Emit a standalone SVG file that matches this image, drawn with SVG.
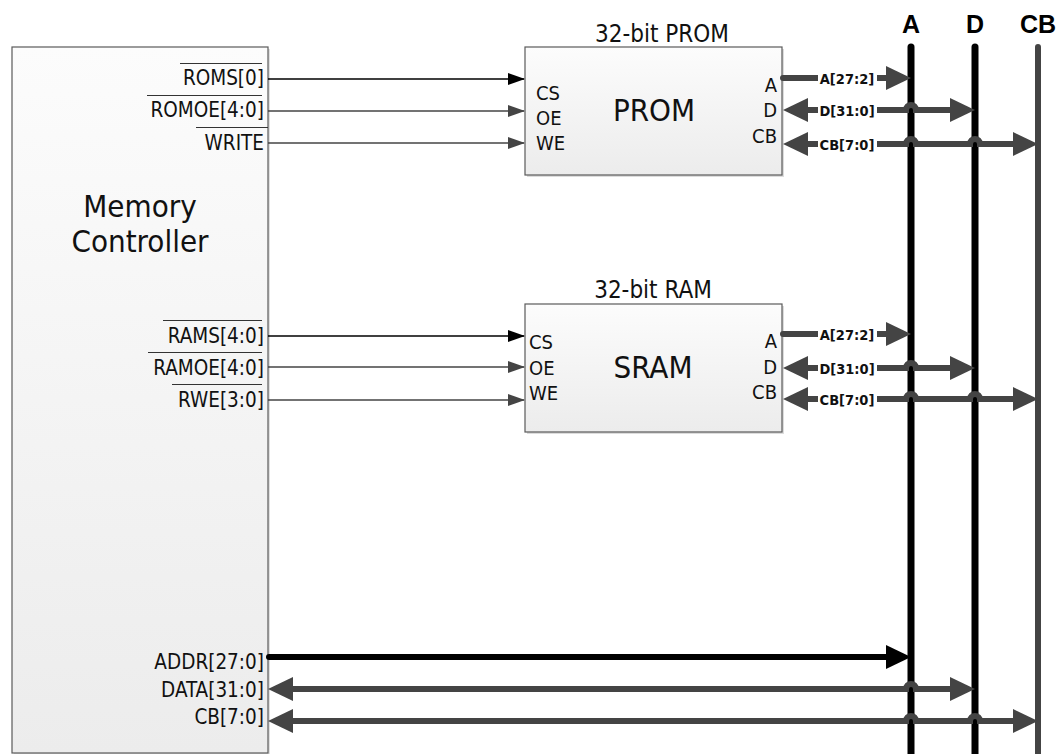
<svg xmlns="http://www.w3.org/2000/svg" width="1059" height="754" viewBox="0 0 1059 754">
<style>
text{font-family:"DejaVu Sans Condensed","DejaVu Sans",sans-serif;fill:#111}
.sig{font-size:20.5px;text-anchor:end}
.pin{font-size:20px}
.pinr{font-size:20px;text-anchor:end}
.title{font-size:24px;text-anchor:middle}
.big{font-size:31px;text-anchor:middle}
.mc{font-size:31px;text-anchor:middle}
.bus{font-family:"Liberation Sans",Arial,sans-serif;font-size:25px;font-weight:bold;text-anchor:middle;fill:#000}
.bl{font-size:14.5px;font-weight:bold;text-anchor:middle;fill:#111}
.box{stroke:#5a5a5a;stroke-width:1.2;fill:url(#g)}
.ov{stroke:#333;stroke-width:1.2}
.thin{stroke:#444;stroke-width:1.6;fill:none}
.thinb{stroke:#000;stroke-width:1.6;fill:none}
.thk{stroke:#444;stroke-width:6;fill:none}
.thkb{stroke:#000;stroke-width:6;fill:none}
</style>
<defs>
<linearGradient id="g" x1="0" y1="0" x2="0" y2="1">
<stop offset="0" stop-color="#fcfcfc"/>
<stop offset="1" stop-color="#ececec"/>
</linearGradient>
<marker id="ab" markerUnits="userSpaceOnUse" markerWidth="17" markerHeight="12" refX="16" refY="6" orient="auto"><path d="M0,0 L17,6 L0,12 z" fill="#000"/></marker>
<marker id="ag" markerUnits="userSpaceOnUse" markerWidth="17" markerHeight="12" refX="16" refY="6" orient="auto"><path d="M0,0 L17,6 L0,12 z" fill="#444"/></marker>
<marker id="tg" markerUnits="userSpaceOnUse" markerWidth="25" markerHeight="24" refX="11" refY="12" orient="auto-start-reverse"><path d="M0,0 L25,12 L0,24 z" fill="#444"/></marker>
<marker id="tb" markerUnits="userSpaceOnUse" markerWidth="25" markerHeight="24" refX="11" refY="12" orient="auto-start-reverse"><path d="M0,0 L25,12 L0,24 z" fill="#000"/></marker>
</defs>
<rect width="1059" height="754" fill="#fff"/>

<g id="memory-controller">
<rect x="14" y="49" width="256" height="706" fill="#e0e0e0"/>
<rect x="12" y="47" width="256" height="706" class="box"/>
<text x="140" y="217" class="mc">Memory</text>
<text x="140" y="252" class="mc">Controller</text>
<text x="264" y="85" class="sig">ROMS[0]</text>
<line x1="180" y1="63.5" x2="262" y2="63.5" class="ov"/>
<text x="264" y="117" class="sig">ROMOE[4:0]</text>
<line x1="147" y1="95.5" x2="262" y2="95.5" class="ov"/>
<text x="264" y="150" class="sig">WRITE</text>
<line x1="196" y1="127.5" x2="268" y2="127.5" class="ov"/>
<text x="264" y="343" class="sig">RAMS[4:0]</text>
<line x1="163" y1="320.5" x2="262" y2="320.5" class="ov"/>
<text x="264" y="375" class="sig">RAMOE[4:0]</text>
<line x1="148" y1="352.5" x2="262" y2="352.5" class="ov"/>
<text x="264" y="407" class="sig">RWE[3:0]</text>
<line x1="172" y1="384.5" x2="262" y2="384.5" class="ov"/>
<text x="264" y="669" class="sig">ADDR[27:0]</text>
<text x="264" y="697" class="sig">DATA[31:0]</text>
<text x="264" y="724" class="sig">CB[7:0]</text>
</g>

<g id="prom">
<text x="662" y="42" class="title">32-bit PROM</text>
<rect x="527" y="49" width="257" height="128" fill="#dcdcdc"/>
<rect x="525" y="47" width="257" height="128" class="box"/>
<text x="536" y="100" class="pin">CS</text>
<text x="536" y="125" class="pin">OE</text>
<text x="536" y="150" class="pin">WE</text>
<text x="654" y="121" class="big">PROM</text>
<text x="777" y="92" class="pinr">A</text>
<text x="777" y="117" class="pinr">D</text>
<text x="777" y="143" class="pinr">CB</text>
</g>

<g id="sram">
<text x="653" y="298" class="title">32-bit RAM</text>
<rect x="527" y="306" width="257" height="128" fill="#dcdcdc"/>
<rect x="525" y="304" width="257" height="128" class="box"/>
<text x="529" y="349" class="pin">CS</text>
<text x="529" y="375" class="pin">OE</text>
<text x="529" y="400" class="pin">WE</text>
<text x="653" y="378" class="big">SRAM</text>
<text x="777" y="348" class="pinr">A</text>
<text x="777" y="374" class="pinr">D</text>
<text x="777" y="399" class="pinr">CB</text>
</g>

<g id="bus-A">
<line x1="911" y1="47" x2="911" y2="760" stroke="#000" stroke-width="7" stroke-linecap="round"/>
<text x="911" y="33" class="bus">A</text>
</g>
<g id="bus-D">
<line x1="975" y1="47" x2="975" y2="760" stroke="#000" stroke-width="7" stroke-linecap="round"/>
<text x="975" y="33" class="bus">D</text>
</g>
<g id="bus-CB">
<line x1="1038" y1="47" x2="1038" y2="760" stroke="#444" stroke-width="6" stroke-linecap="round"/>
<text x="1038" y="33" class="bus">CB</text>
</g>

<g id="connectors">
<line x1="268" y1="79" x2="524" y2="79" class="thinb" marker-end="url(#ab)"/>
<line x1="268" y1="111" x2="524" y2="111" class="thin" marker-end="url(#ag)"/>
<line x1="268" y1="143" x2="524" y2="143" class="thin" marker-end="url(#ag)"/>
<line x1="268" y1="336" x2="524" y2="336" class="thinb" marker-end="url(#ab)"/>
<line x1="268" y1="367" x2="524" y2="367" class="thin" marker-end="url(#ag)"/>
<line x1="268" y1="400" x2="524" y2="400" class="thin" marker-end="url(#ag)"/>

<path d="M783,78 H897" class="thk" stroke-linecap="round" marker-end="url(#tg)"/>
<path d="M797,110 H906 A5,5 0 0 1 916,110 H961" class="thk" marker-start="url(#tg)" marker-end="url(#tg)"/>
<path d="M797,144 H906 A5,5 0 0 1 916,144 H970 A5,5 0 0 1 980,144 H1024" class="thk" marker-start="url(#tg)" marker-end="url(#tg)"/>
<path d="M783,334 H897" class="thk" stroke-linecap="round" marker-end="url(#tg)"/>
<path d="M797,368 H906 A5,5 0 0 1 916,368 H961" class="thk" marker-start="url(#tg)" marker-end="url(#tg)"/>
<path d="M797,399 H906 A5,5 0 0 1 916,399 H970 A5,5 0 0 1 980,399 H1024" class="thk" marker-start="url(#tg)" marker-end="url(#tg)"/>
<path d="M269,657 H897" class="thkb" stroke-linecap="round" marker-end="url(#tb)"/>
<path d="M282,689 H906 A5,5 0 0 1 916,689 H961" class="thk" marker-start="url(#tg)" marker-end="url(#tg)"/>
<path d="M282,721 H906 A5,5 0 0 1 916,721 H970 A5,5 0 0 1 980,721 H1024" class="thk" marker-start="url(#tg)" marker-end="url(#tg)"/>

<g id="bus-labels">
<rect x="818" y="69" width="59" height="18" fill="#fff"/>
<text x="847" y="83.5" class="bl">A[27:2]</text>
<rect x="818" y="101" width="59" height="18" fill="#fff"/>
<text x="847" y="115.5" class="bl">D[31:0]</text>
<rect x="818" y="135" width="59" height="18" fill="#fff"/>
<text x="847" y="149.5" class="bl">CB[7:0]</text>
<rect x="818" y="325" width="59" height="18" fill="#fff"/>
<text x="847" y="339.5" class="bl">A[27:2]</text>
<rect x="818" y="359" width="59" height="18" fill="#fff"/>
<text x="847" y="373.5" class="bl">D[31:0]</text>
<rect x="818" y="390" width="59" height="18" fill="#fff"/>
<text x="847" y="404.5" class="bl">CB[7:0]</text>
</g>
</g>
</svg>
